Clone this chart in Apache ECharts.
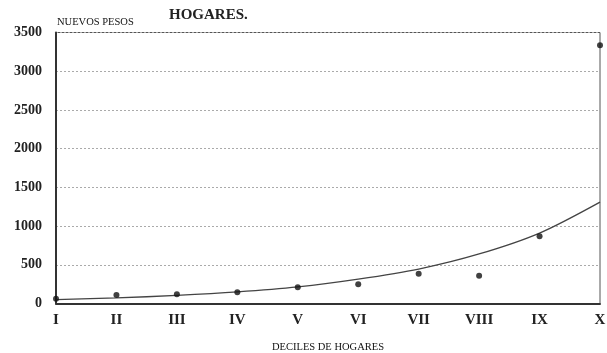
<!DOCTYPE html>
<html>
<head>
<meta charset="utf-8">
<script src="https://cdn.jsdelivr.net/npm/echarts@6/dist/echarts.min.js"></script>
<style>
  html, body { margin: 0; padding: 0; background: #ffffff; }
  #chart { width: 607px; height: 353px; }
</style>
</head>
<body>
<div id="chart"></div>
<script>
// Income deciles of households
const deciles = ['I', 'II', 'III', 'IV', 'V', 'VI', 'VII', 'VIII', 'IX', 'X'];
// Observed average per decile (nuevos pesos)
const observed = [60, 110, 120, 145, 210, 250, 383, 357, 868, 3335];
// Fitted exponential trend at each decile
const trend = [50, 72, 105, 150, 215, 315, 445, 640, 910, 1310];
// Value axis ticks
const yMin = 0, yMax = 3500, yStep = 500;

const serif = '"Liberation Serif", "DejaVu Serif", serif';
const chart = echarts.init(document.getElementById('chart'), null, { renderer: 'canvas' });

chart.setOption({
  backgroundColor: '#ffffff',
  animation: false,
  title: [
    { text: 'HOGARES.', left: 164, top: 3,
      textStyle: { fontFamily: serif, fontSize: 15, fontWeight: 'bold', color: '#222' } },
    { text: 'NUEVOS PESOS', left: 52, top: 12,
      textStyle: { fontFamily: serif, fontSize: 10.5, fontWeight: 'normal', color: '#111' } }
  ],
  grid: {
    left: 56, right: 7, top: 32.5, bottom: 49.5,
    containLabel: false, outerBoundsMode: 'none',
    show: true, borderColor: '#555', borderWidth: 1, backgroundColor: 'transparent'
  },
  xAxis: {
    type: 'category',
    data: deciles,
    boundaryGap: false,
    name: 'DECILES DE HOGARES',
    nameLocation: 'middle',
    nameGap: 38,
    nameTextStyle: { fontFamily: serif, fontSize: 10.5, color: '#111' },
    axisLine: { show: true, lineStyle: { color: '#333', width: 2 } },
    axisTick: { show: false },
    axisLabel: { fontFamily: serif, fontSize: 15, fontWeight: 'bold', color: '#222', margin: 9 },
    splitLine: { show: false }
  },
  yAxis: {
    type: 'value',
    min: yMin, max: yMax, interval: yStep,
    axisLine: { show: true, lineStyle: { color: '#333', width: 2 } },
    axisTick: { show: false },
    axisLabel: {
      fontFamily: serif, fontSize: 14, fontWeight: 'bold', color: '#222', margin: 14,
      formatter: v => String(v)
    },
    splitLine: { show: true, lineStyle: { color: '#aaa', type: [2, 2], width: 1 } }
  },
  series: [
    {
      name: 'Tendencia',
      type: 'line',
      data: trend,
      smooth: 0.3,
      showSymbol: false,
      lineStyle: { color: '#444', width: 1.3 },
      z: 2
    },
    {
      name: 'Observado',
      type: 'scatter',
      data: observed,
      symbol: 'circle',
      symbolSize: 6,
      itemStyle: { color: '#111' },
      z: 3
    }
  ]
});
</script>
</body>
</html>
